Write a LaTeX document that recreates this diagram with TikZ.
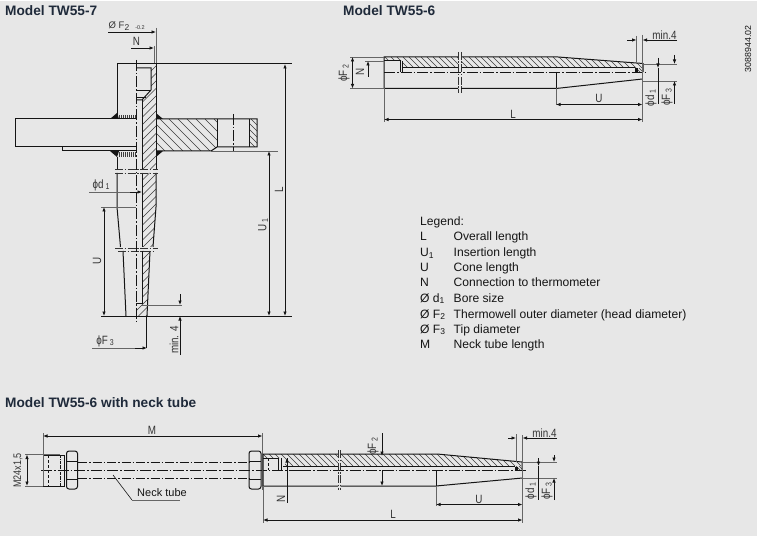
\documentclass[tikz,border=0pt]{standalone}
\usepackage{fontspec}
\setmainfont{Liberation Sans}
\newfontfamily\dimf[FakeStretch=0.82]{Liberation Sans}
\usetikzlibrary{arrows.meta}
\definecolor{bgc}{HTML}{E7E7E7}
\definecolor{ink}{HTML}{151515}
\definecolor{hatchc}{HTML}{3C3C3C}
\definecolor{dimc}{HTML}{333333}
\definecolor{headc}{HTML}{1F2A3A}
\tikzset{
  outline/.style={draw=ink,line width=1pt},
  thinl/.style={draw=ink,line width=0.6pt},
  extl/.style={draw=dimc!75,line width=0.9pt},
  dimline/.style={draw=ink,line width=0.8pt,{Latex[length=4.5pt,width=3.6pt]}-{Latex[length=4.5pt,width=3.6pt]}},
  dimto/.style={draw=ink,line width=0.8pt,-{Latex[length=4.5pt,width=3.6pt]}},
  axis/.style={draw=ink,line width=0.75pt,dash pattern=on 11pt off 2pt on 1.5pt off 2pt},
  tubeline/.style={draw=ink,line width=0.75pt,dash pattern=on 9pt off 2pt on 1.5pt off 2pt},
  breakl/.style={draw=dimc,line width=0.7pt,dash pattern=on 8pt off 1.5pt on 1.5pt off 1.5pt},
  hl/.style={draw=hatchc,line width=0.6pt},
  heading/.style={font=\fontsize{13.7}{15}\selectfont\bfseries,text=headc,anchor=west,inner sep=0pt},
  legendt/.style={font=\fontsize{12.1}{13}\selectfont,text=ink,anchor=base west,inner sep=0pt},
  dimt/.style={font=\fontsize{12}{13}\dimf\selectfont,text=dimc,inner sep=0pt},
  dimr/.style={dimt,rotate=90},
  weld/.style={fill=ink,draw=none}
}
\newcommand{\sbs}[1]{\raisebox{-0.25ex}{\fontsize{8.5}{9}\selectfont #1}}
\newcommand{\hatchF}[6]{\begin{scope}\clip #1;
  \pgfmathsetmacro{\hh}{#5-#4}
  \pgfmathsetmacro{\stt}{#2-\hh}
  \pgfmathsetmacro{\stn}{\stt+#6}
  \foreach \s in {\stt,\stn,...,#3}{\draw[hl] (\s,#5) -- ++(\hh,-\hh);}
  \end{scope}}
\newcommand{\hatchB}[6]{\begin{scope}\clip #1;
  \pgfmathsetmacro{\hh}{#5-#4}
  \pgfmathsetmacro{\stt}{#2-\hh}
  \pgfmathsetmacro{\stn}{\stt+#6}
  \foreach \s in {\stt,\stn,...,#3}{\draw[hl] (\s,#4) -- ++(\hh,\hh);}
  \end{scope}}
\begin{document}
\begin{tikzpicture}[x=1pt,y=-1pt]
\useasboundingbox (0,0) rectangle (757,537);
\fill[bgc] (0,1) rectangle (757,536);

% ---- headings
\node[heading] (h1) at (5,11) {Model TW55-7};
\node[heading] (h2) at (343,11) {Model TW55-6};
\node[heading] (h3) at (5,403) {Model TW55-6 with neck tube};
\node[font=\fontsize{8.8}{10}\selectfont,text=ink,rotate=90,inner sep=0pt] (docno) at (748,49) {3088944.02};

% ---- TW55-7 hatching
\hatchF{(142,100)--(151,91)--(151,65)--(156,65)--(156,169)--(142,169)--cycle}{142}{156}{65}{169}{7.5}
\hatchF{(142,173)--(156,173)--(156,207)--(153,247)--(142,247)--cycle}{142}{156}{173}{247}{7.5}
\hatchF{(142,251)--(150,251)--(147,316)--(136,316)--(136,303)--(142,303)--cycle}{136}{150}{251}{316}{7.5}
\hatchB{(156,119)--(217,119)--(217,147)--(211,151)--(156,151)--cycle}{156}{217}{119}{151}{9}
\hatchB{(249,119)--(257,119)--(257,147)--(249,147)--cycle}{249}{257}{119}{147}{6}
% threads
\foreach \x in {119,121,...,135}{\draw[hl] (\x,115)--(\x,119); \draw[hl] (\x,152)--(\x,157);}

% ---- TW55-7 outline
\draw[outline] (117,115)--(117,64)--(156,64);
\draw[outline] (136,68)--(151,68)--(151,90)--(142,100)--(136,100);
\draw[thinl] (136,90)--(151,90);
\draw[thinl] (136,97)--(146,97);
\draw[outline] (142,100)--(142,169);
\draw[outline] (156,64)--(156,169);
\draw[outline] (117,157)--(117,169);
\draw[outline] (136,119)--(15.5,119)--(15.5,147)--(136,147);
\draw[outline] (62,147)--(62,150.5)--(136,150.5);
\draw[outline] (156,119)--(257,119)--(257,147)--(217,147)--(211,151)--(156,151);
\draw[outline] (217,119)--(217,147);
\draw[outline] (249,119)--(249,147);
\draw[axis] (233,114)--(233,152);
\fill[weld] (110,119)--(117,113)--(119,119)--cycle;
\fill[weld] (110,151)--(117,157)--(119,151)--cycle;
\fill[weld] (156,113)--(163,119)--(156,119)--cycle;
\fill[weld] (156,157)--(163,151)--(156,151)--cycle;
\draw[outline] (117,173)--(117,207)--(120.5,247);
\draw[outline] (142,173)--(142,247);
\draw[outline] (156,173)--(156,207)--(153,247);
\draw[outline] (123,251)--(126,316);
\draw[outline] (142,251)--(142,303)--(136,303);
\draw[outline] (150,251)--(147,316);
\draw[breakl] (115,169)--(158,169);
\draw[breakl] (115,173)--(158,173);
\draw[breakl] (115,248)--(158,248);
\draw[breakl] (118,251)--(155,251);
\draw[axis] (136.5,60)--(136.5,321);

% ---- TW55-7 dimensions
\draw[extl] (156,28)--(156,64);
\draw[extl] (154,46)--(154,64);
\draw[dimto] (108,32)--(156,32);
\draw[dimto] (131,48)--(154,48);
\node[dimt,font=\fontsize{9.5}{10}\selectfont] (f2a) at (119,26) {Ø F\sbs{2}};
\node[font=\fontsize{5.5}{6}\selectfont,text=dimc,inner sep=0pt] (f2b) at (140,28) {-0.2};
\node[dimt] (na) at (136.5,41) {N};
\draw[outline] (117,64)--(292,64);
\draw[outline] (101,316)--(292,316);
\draw[extl] (211,151)--(278,151);
\draw[dimline] (269,151)--(269,316);
\draw[dimline] (285,64)--(285,316);
\node[dimr] (u1a) at (263,225) {U\,\sbs{1}};
\node[dimr] (la) at (279,190) {L};
\draw[extl] (89,192)--(135,192);
\draw[dimto] (130,192)--(142,192);
\node[dimt] (d1a) at (101,185) {ϕd\,\sbs{1}};
\draw[extl] (101,207)--(136,207);
\draw[dimline] (104,207)--(104,316);
\node[dimr] (ua) at (97,261) {U};
\draw[extl] (142,305)--(182,305);
\draw[dimto] (180,294)--(180,305);
\draw[dimto] (180,355)--(180,316);
\node[dimr] (min7) at (174,340) {min. 4};
\draw[extl] (92,348)--(140,348);
\draw[dimto] (135,348)--(147,348);
\draw[outline] (146.5,316)--(146.5,348);
\node[dimt] (f3a) at (105,341) {ϕF\,\sbs{3}};

% ---- TW55-6 hatching
\hatchB{(384,57)--(558,57)--(643,63.5)--(643,68)--(402,68)--(402,61)--(384,61)--cycle}{384}{643}{57}{68}{6}
\hatchB{(635,68)--(643,68)--(643,72.5)--(635,72.5)--cycle}{635}{643}{68}{73}{3}
\fill[bgc] (458,56)rectangle(461,69);
% ---- TW55-6 outline
\draw[outline] (384,88.5)--(384,57)--(458,57) (461,57)--(558,57)--(643,63.5)--(643,72);
\draw[outline] (384,88.5)--(458,88.5) (461,88.5)--(556,88.5)--(642.5,79);
\draw[outline] (384,61)--(400,61)--(400,72);
\draw[thinl] (402,61)--(402,72);
\draw[outline] (402,68)--(458,68) (461,68)--(635,68);
\draw[outline] (556,72)--(556,88.5);
\draw[outline] (642.5,79)--(642.5,84);
\fill[ink] (635,68.5) rectangle (638,72);
\draw[axis] (384,72.5)--(647,72.5);
\draw[breakl] (458,52)--(458,93);
\draw[breakl] (461,52)--(461,93);

% ---- TW55-6 dimensions
\draw[extl] (350,57)--(384,57);
\draw[extl] (350,88.5)--(384,88.5);
\draw[dimline] (352.5,57)--(352.5,88.5);
\node[dimr] (f2c) at (344,73) {ϕF\,\sbs{2}};
\draw[extl] (365,61)--(384,61);
\draw[dimto] (368,77)--(368,61);
\node[dimr] (nc) at (360,72) {N};
\draw[extl] (556,88)--(556,105);
\draw[dimline] (556,104.5)--(642.5,104.5);
\node[dimt] (uc) at (599,98) {U};
\draw[extl] (384,88)--(384,122);
\draw[extl] (642.5,35)--(642.5,122);
\draw[dimline] (384,119.5)--(642.5,119.5);
\node[dimt] (lc) at (513,114) {L};
\draw[extl] (636.5,36)--(636.5,64);
\draw[dimto] (627,40)--(636.5,40);
\draw[dimto] (677,40)--(642.5,40);
\node[dimt] (minc) at (664.5,35) {min.4};
\draw[extl] (642,64)--(677,64);
\draw[extl] (642,81)--(677,81);
\draw[dimto] (658,58)--(658,68);
\draw[thinl] (658,68)--(658,104);
\draw[dimto] (674.5,55)--(674.5,64);
\draw[dimto] (674.5,104)--(674.5,81);
\node[dimr] (d1c) at (651,98) {ϕd\,\sbs{1}};
\node[dimr] (f3c) at (667,97) {ϕF\,\sbs{3}};

% ---- Legend
\node[legendt] (lg0) at (420,226) {Legend:};
\node[legendt] (lg1a) at (420,241) {L};
\node[legendt] (lg1b) at (453.5,241) {Overall length};
\node[legendt] (lg2a) at (420,257) {U\sbs{1}};
\node[legendt] (lg2b) at (453.5,257) {Insertion length};
\node[legendt] (lg3a) at (420,272) {U};
\node[legendt] (lg3b) at (453.5,272) {Cone length};
\node[legendt] (lg4a) at (420,287) {N};
\node[legendt] (lg4b) at (453.5,287) {Connection to thermometer};
\node[legendt] (lg5a) at (420,302) {Ø d\sbs{1}};
\node[legendt] (lg5b) at (453.5,302) {Bore size};
\node[legendt] (lg6a) at (420,318) {Ø F\sbs{2}};
\node[legendt] (lg6b) at (453.5,318) {Thermowell outer diameter (head diameter)};
\node[legendt] (lg7a) at (420,333) {Ø F\sbs{3}};
\node[legendt] (lg7b) at (453.5,333) {Tip diameter};
\node[legendt] (lg8a) at (420,348) {M};
\node[legendt] (lg8b) at (453.5,348) {Neck tube length};

% ---- neck tube: left fitting
\draw[outline] (43,455)--(64,455)--(64,486)--(43,486)--cycle;
\draw[thinl,densely dashed] (48,455)--(48,486);
\draw[thinl,densely dashdotted] (60,455)--(60,486);
\draw[outline,rounded corners=2.5pt] (66.5,451)--(77.5,451)--(77.5,489)--(66.5,489)--cycle;
\draw[thinl] (66.5,461.5)--(77.5,461.5) (66.5,479.5)--(77.5,479.5);
\draw[outline,rounded corners=2.5pt] (249,451)--(261,451)--(261,489)--(249,489)--cycle;
\draw[thinl] (249,461.5)--(261,461.5) (249,479.5)--(261,479.5);
\draw[tubeline] (78,462.5)--(249,462.5);
\draw[tubeline] (78,478.5)--(249,478.5);
\draw[axis] (41,470.5)--(300,470.5);
\draw[thinl] (113,475)--(132,500);
\draw[extl] (132,500)--(180,500);
\node[font=\fontsize{11}{12}\selectfont,text=ink,inner sep=0pt] (nt) at (162,493) {Neck tube};
% left dims
\draw[extl] (25,454.5)--(60,454.5);
\draw[extl] (25,486)--(43,486);
\draw[dimline] (27,454.5)--(27,486);
\node[dimr,font=\fontsize{11}{12}\dimf\selectfont] (m24) at (18,470.5) {M24x1,5};
\draw[extl] (43,433)--(43,486);
\draw[extl] (262.5,433)--(262.5,490);
\draw[dimline] (43,436)--(262.5,436);
\node[dimt] (mm) at (152,430) {M};

% ---- neck tube: well hatching
\hatchB{(263,454)--(437,454)--(522,462)--(522,466)--(285,466)--(285,458)--(263,458)--cycle}{263}{522}{454}{466}{6}
\hatchB{(515,466)--(522,466)--(522,470)--(515,470)--cycle}{515}{522}{466}{471}{3}
\fill[bgc] (338,453)rectangle(340.5,467);
% ---- well outline
\draw[outline] (263,486)--(263,454)--(338,454) (340.5,454)--(437,454)--(522,462)--(522,470);
\draw[outline] (263,486)--(338,486) (340.5,486)--(436,486)--(522.5,478);
\draw[outline] (263,458)--(278,458)--(278,470);
\draw[thinl] (281,458)--(281,470);
\draw[thinl,densely dashed] (268,458)--(268,470);
\draw[outline] (283,466)--(338,466) (340.5,466)--(515,466);
\draw[outline] (436,471)--(436,486);
\fill[ink] (515,467) rectangle (518,470);
\draw[axis] (300,470.5)--(527,470.5);
\draw[breakl] (338,450)--(338,490);
\draw[breakl] (340.5,450)--(340.5,490);
% ---- well dims
\draw[draw=ink,line width=0.8pt] (287,458)--(287,503);
\draw[dimto] (287,466)--(287,458);
\node[dimr] (nn) at (281,499) {N};
\draw[dimto] (382,433)--(382,456);
\draw[dimto] (382,470)--(382,486);
\node[dimr] (f2n) at (373,446) {ϕF\,\sbs{2}};
\draw[extl] (436,486)--(436,506);
\draw[dimline] (436,504.5)--(522.5,504.5);
\node[dimt] (un) at (479,499) {U};
\draw[extl] (263,486)--(263,523);
\draw[extl] (522.5,435)--(522.5,523);
\draw[dimline] (263,520)--(522.5,520);
\node[dimt] (ln) at (393,514) {L};
\draw[extl] (516,434)--(516,462);
\draw[dimto] (508,438)--(516,438);
\draw[dimto] (557,438)--(522.5,438);
\node[dimt] (minn) at (544.5,433) {min.4};
\draw[extl] (522,462)--(557,462);
\draw[extl] (522,478)--(557,478);
\draw[dimto] (538.5,458)--(538.5,466);
\draw[thinl] (538.5,466)--(538.5,500);
\draw[dimto] (554,455)--(554,462);
\draw[dimto] (554,500)--(554,478);
\node[dimr] (d1n) at (531,491) {ϕd\,\sbs{1}};
\node[dimr] (f3n) at (547,491) {ϕF\,\sbs{3}};
\end{tikzpicture}
\end{document}
